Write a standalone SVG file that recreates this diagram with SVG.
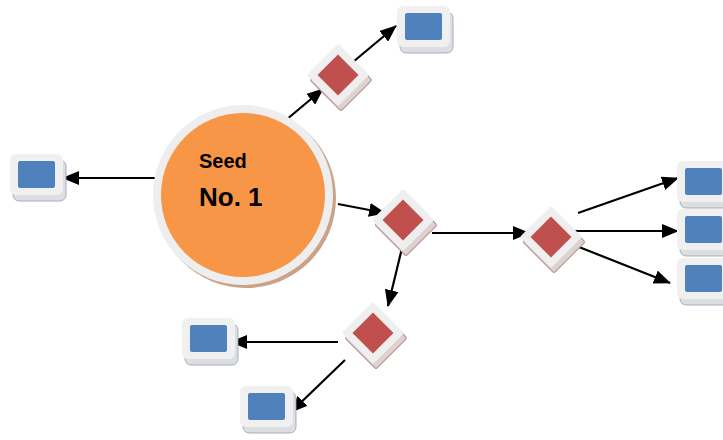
<svg xmlns="http://www.w3.org/2000/svg" width="723" height="440" viewBox="0 0 723 440">
  <defs>
    <style>
      .edge { stroke: #000; stroke-width: 2.2; fill: none; marker-end: url(#arrow); }
      .box-shadow { fill: #dcdee2; stroke: #93a0b4; stroke-width: 0.8; }
      .box-frame { fill: #f0f0f0; }
      .box-fill { fill: #4f81bd; }
      .dia-shadow { fill: #ddd2d0; stroke: #b48c88; stroke-width: 1; }
      .dia-frame { fill: #efefef; }
      .dia-fill { fill: #c0504d; }
      .label { font-family: "Liberation Sans", Arial, sans-serif; font-weight: bold; fill: #000; }
    </style>
    <marker id="arrow" markerUnits="userSpaceOnUse" markerWidth="17" markerHeight="14" viewBox="0 0 17 14" refX="16" refY="7" orient="auto">
      <path d="M0,0 L17,7 L0,14 z" fill="#000"/>
    </marker>
    <!-- square node: frame with blue face -->
    <g id="box">
      <rect class="box-shadow" x="3" y="6" width="53" height="41" rx="6"/>
      <rect class="box-frame" x="0" y="0" width="53" height="41" rx="6"/>
      <rect class="box-fill" x="8" y="7" width="37" height="27" rx="2"/>
    </g>
    <!-- diamond node: frame with red face, centred on 0,0 -->
    <g id="diamond">
      <rect class="dia-shadow" x="-22" y="-22" width="44" height="44" rx="2" transform="translate(3,5) rotate(45)"/>
      <rect class="dia-frame" x="-22" y="-22" width="44" height="44" rx="2" transform="rotate(45)"/>
      <rect class="dia-fill" x="-14.5" y="-14.5" width="29" height="29" transform="rotate(45)"/>
    </g>
  </defs>

  <rect width="723" height="440" fill="#ffffff"/>

  <g id="connectors">
    <line class="edge" x1="280" y1="125" x2="323" y2="89"/>
    <line class="edge" x1="353" y1="62" x2="396" y2="26"/>
    <line class="edge" x1="165" y1="178" x2="63" y2="178"/>
    <line class="edge" x1="338" y1="204" x2="385" y2="213"/>
    <line class="edge" x1="432" y1="233" x2="529" y2="233"/>
    <line class="edge" x1="578" y1="213" x2="678" y2="178"/>
    <line class="edge" x1="575" y1="231" x2="678" y2="231"/>
    <line class="edge" x1="579" y1="247" x2="670" y2="283"/>
    <line class="edge" x1="402" y1="248" x2="388" y2="306"/>
    <line class="edge" x1="338" y1="342" x2="231" y2="342"/>
    <line class="edge" x1="345" y1="360" x2="291" y2="412"/>
  </g>

  <g id="seed">
    <circle cx="246" cy="198" r="90" fill="#c9a288"/>
    <circle cx="243" cy="195" r="90" fill="#eeeeee"/>
    <circle cx="243" cy="195" r="82" fill="#f79646"/>
    <text class="label" x="199" y="168" font-size="20">Seed</text>
    <text class="label" x="199" y="206" font-size="26">No. 1</text>
  </g>

  <g id="d1"><use href="#diamond" x="338" y="75"/></g>
  <g id="d2"><use href="#diamond" x="403" y="220"/></g>
  <g id="d3"><use href="#diamond" x="551" y="237"/></g>
  <g id="d4"><use href="#diamond" x="373" y="333"/></g>

  <g id="n-top"><use href="#box" x="397" y="6"/></g>
  <g id="n-left"><use href="#box" x="10" y="154"/></g>
  <g id="n-right1"><use href="#box" x="677" y="161"/></g>
  <g id="n-right2"><use href="#box" x="677" y="209"/></g>
  <g id="n-right3"><use href="#box" x="677" y="258"/></g>
  <g id="n-bottom-left"><use href="#box" x="182" y="318"/></g>
  <g id="n-bottom"><use href="#box" x="240" y="386"/></g>
</svg>
